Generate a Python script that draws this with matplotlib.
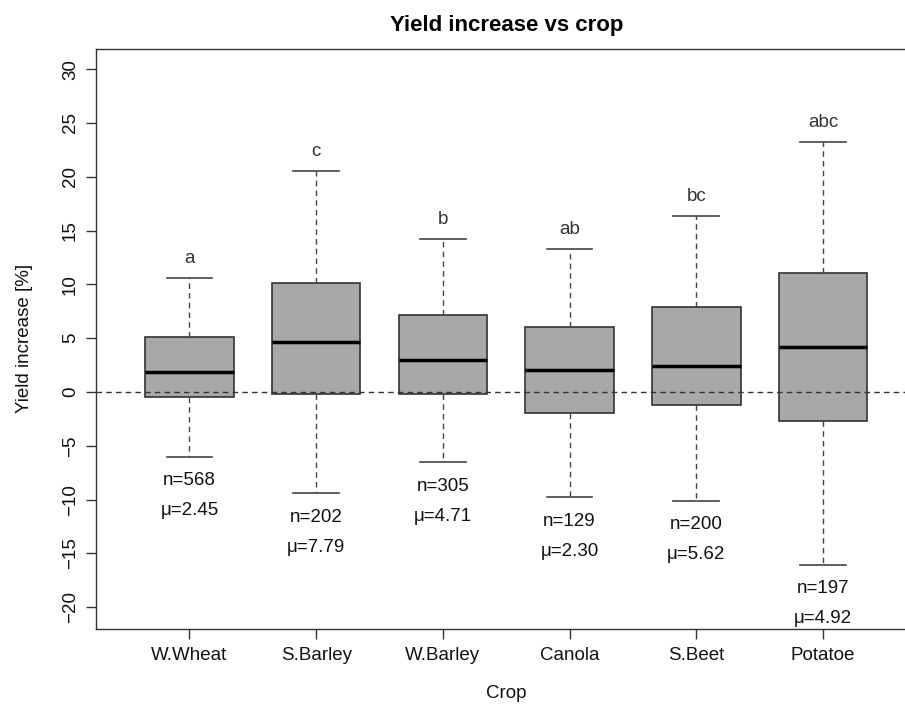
import matplotlib.pyplot as plt

plt.rcParams['font.family'] = ['Liberation Sans', 'DejaVu Sans']

crops = ['W.Wheat', 'S.Barley', 'W.Barley', 'Canola', 'S.Beet', 'Potatoe']
whis_lo = [-6.0, -9.4, -6.55, -9.8, -10.1, -16.05]
q1 = [-0.5, -0.22, -0.22, -1.97, -1.2, -2.71]
medians = [1.86, 4.61, 3.0, 2.0, 2.46, 4.17]
q3 = [5.12, 10.17, 7.13, 6.01, 7.88, 11.05]
whis_hi = [10.6, 20.56, 14.23, 13.28, 16.35, 23.2]
n_obs = [568, 202, 305, 129, 200, 197]
means = [2.45, 7.79, 4.71, 2.30, 5.62, 4.92]
groups = ['a', 'c', 'b', 'ab', 'bc', 'abc']

fig = plt.figure(figsize=(9.05, 7.05), dpi=100)
ax = fig.add_axes([0.1057, 0.1082, 0.9073, 0.8227])

stats = []
for i, name in enumerate(crops):
    stats.append(dict(label=name, whislo=whis_lo[i], q1=q1[i], med=medians[i],
                      q3=q3[i], whishi=whis_hi[i], fliers=[]))

pos = list(range(1, len(crops) + 1))
dash = (0, (4, 3))
ax.bxp(stats, positions=pos, widths=0.70, patch_artist=True, showfliers=False,
       boxprops=dict(facecolor='#a8a8a8', edgecolor='#333333', linewidth=1.2),
       medianprops=dict(color='black', linewidth=2.5, solid_capstyle='butt'),
       whiskerprops=dict(color='#444444', linewidth=1.0, linestyle=dash),
       capprops=dict(color='#444444', linewidth=1.2),
       capwidths=0.36)

ax.axhline(0, color='#333333', linewidth=1.0, linestyle=dash, zorder=4)

# letters above, counts and means below each box
fs = 13.5
for i, x in enumerate(pos):
    ax.annotate(groups[i], (x, whis_hi[i]), xytext=(0, 14), textcoords='offset points',
                ha='center', va='center', fontsize=fs, color='#333333')
    ax.annotate(f'n={n_obs[i]}', (x, whis_lo[i]), xytext=(0, -17.3), textcoords='offset points',
                ha='center', va='center', fontsize=fs, color='#111111')
    ax.annotate(f'μ={means[i]:.2f}', (x, whis_lo[i]), xytext=(0, -38.9), textcoords='offset points',
                ha='center', va='center', fontsize=fs, color='#111111')

ax.set_xlim(0.26, 6.74)
ax.set_ylim(-22, 31.9)
ax.set_yticks(range(-20, 31, 5))
ax.set_xticks(pos)
ax.set_xticklabels(crops)

for side in ['left', 'bottom', 'top']:
    ax.spines[side].set_color('#333333')
    ax.spines[side].set_linewidth(1.0)
ax.spines['right'].set_visible(False)

ax.tick_params(axis='both', direction='out', length=7, width=1.0, color='#333333',
               labelsize=fs, labelcolor='#111111')
ax.tick_params(axis='x', pad=6)
ax.tick_params(axis='y', pad=5, labelrotation=90)
for lab in ax.get_yticklabels():
    lab.set_va('center')

ax.text(0.5, 1.031, 'Yield increase vs crop', transform=ax.transAxes,
        ha='center', va='baseline', fontsize=16, fontweight='bold')
fig.text(506 / 905, (705 - 698.5) / 705, 'Crop', ha='center', va='baseline',
         fontsize=fs, color='#111111')
fig.text(24.3 / 905, 1 - 338.7 / 705, 'Yield increase [%]', rotation=90,
         ha='center', va='center', fontsize=fs, color='#111111')

fig.savefig('out.png', dpi=100)
